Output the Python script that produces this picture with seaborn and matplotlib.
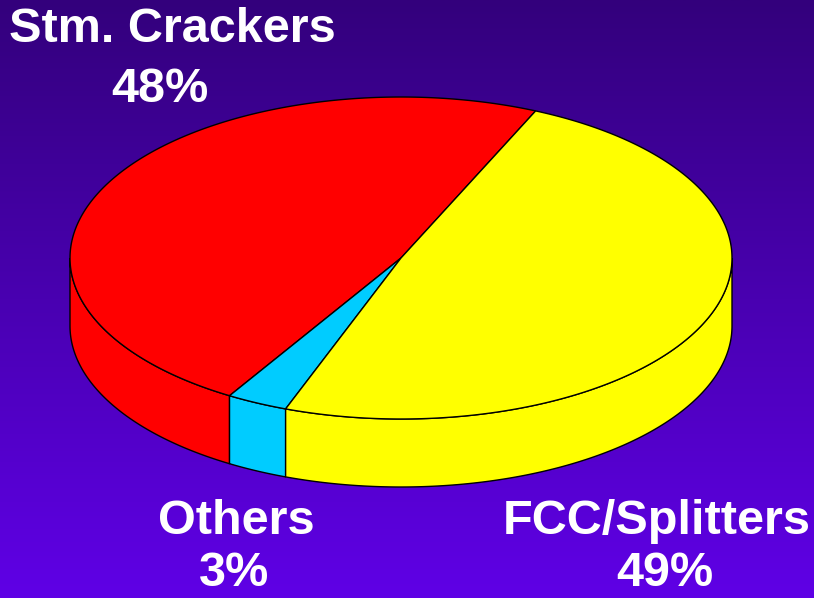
"""3D-style pie chart of capacity shares on a purple gradient."""

import matplotlib.pyplot as plt
import numpy as np
import seaborn as sns
from matplotlib.patches import Polygon

sns.set_theme(style="white")
plt.rcParams["font.family"] = ["Liberation Sans", "DejaVu Sans"]

# data
labels = ["Stm. Crackers", "Others", "FCC/Splitters"]
shares = [48, 3, 49]
slice_colors = ["#ff0000", "#00ccff", "#ffff00"]

# layout (pixels)
W, H = 814, 598
cx, cy, rx, ry, depth = 401, 258, 331, 161, 68
start_angle = 66
label_xy = [((172, 30), (160, 90)), ((236, 522), (234, 574)), ((657, 522), (665, 574))]

fig = plt.figure(figsize=(W / 100, H / 100), dpi=100)
ax = fig.add_axes([0, 0, 1, 1])
ax.set_xlim(0, W)
ax.set_ylim(H, 0)
ax.axis("off")

# background gradient
bg = sns.blend_palette(["#33007c", "#5f00e6"], as_cmap=True)
ax.imshow(np.linspace(0, 1, 256).reshape(-1, 1), cmap=bg, aspect="auto",
          extent=[0, W, H, 0], zorder=0)


def rim(t0, t1, dz=0.0, n=200):
    t = np.radians(np.linspace(t0, t1, n))
    return np.column_stack([cx + rx * np.cos(t), cy - ry * np.sin(t) + dz])


fracs = np.array(shares, dtype=float) / sum(shares)
bounds = start_angle + 360 * np.concatenate([[0], np.cumsum(fracs)])

# side walls (front half only)
for (a, b), col in zip(zip(bounds[:-1], bounds[1:]), slice_colors):
    for lo, hi in [(180, 360), (540, 720)]:
        s, e = max(a, lo), min(b, hi)
        if e <= s:
            continue
        pts = np.vstack([rim(s, e), rim(e, s, depth)])
        ax.add_patch(Polygon(pts, closed=True, facecolor=col, edgecolor="black",
                             linewidth=1, zorder=2))

# top face
for (a, b), col in zip(zip(bounds[:-1], bounds[1:]), slice_colors):
    pts = np.vstack([[cx, cy], rim(a, b)])
    ax.add_patch(Polygon(pts, closed=True, facecolor=col, edgecolor="black",
                         linewidth=1, zorder=3))

for name, val, (p1, p2) in zip(labels, shares, label_xy):
    ax.text(*p1, name, color="white", fontsize=35, fontweight="bold",
            ha="center", va="center", zorder=5)
    ax.text(*p2, f"{val}%", color="white", fontsize=35, fontweight="bold",
            ha="center", va="center", zorder=5)

fig.savefig("out.png", dpi=100)
